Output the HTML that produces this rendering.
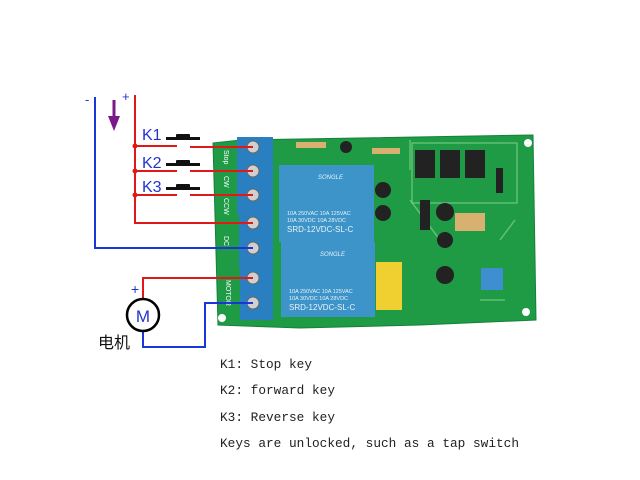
<!DOCTYPE html>
<html><head><meta charset="utf-8"><style>
html,body{margin:0;padding:0;background:#fff;width:640px;height:480px;overflow:hidden}
svg{display:block}
</style></head><body>
<svg width="640" height="480" viewBox="0 0 640 480" xmlns="http://www.w3.org/2000/svg">
<rect width="640" height="480" fill="#fff"/>
<polygon points="213,143 241,140 533,135 536,320 420,325 300,328 218,325" fill="#1f9a45"/>
<polygon points="213,143 241,140 533,135 536,320 420,325 300,328 218,325" fill="none" stroke="#16803a" stroke-width="1"/>
<circle cx="222" cy="318" r="4" fill="#fff"/>
<circle cx="528" cy="143" r="4" fill="#fff"/>
<circle cx="526" cy="312" r="4" fill="#fff"/>
<path d="M410,140 L410,170 M410,200 L440,240 M480,300 L505,300 M500,240 L515,220" stroke="#5fc070" stroke-width="1.5" fill="none"/>
<rect x="412" y="143" width="105" height="60" fill="none" stroke="#7fd08a" stroke-width="1"/>
<rect x="279" y="165" width="95" height="77" fill="#3d94c8"/>
<rect x="281" y="242" width="94" height="75" fill="#3d94c8"/>
<g font-family="Liberation Sans, sans-serif" fill="#e8f2fa">
<text x="318" y="179" font-size="6" font-style="italic">SONGLE</text>
<text x="287" y="215" font-size="5.5">10A 250VAC 10A 125VAC</text>
<text x="287" y="222" font-size="5.5">10A  30VDC 10A  28VDC</text>
<text x="287" y="232" font-size="8">SRD-12VDC-SL-C</text>
<text x="320" y="256" font-size="6" font-style="italic">SONGLE</text>
<text x="289" y="293" font-size="5.5">10A 250VAC 10A 125VAC</text>
<text x="289" y="300" font-size="5.5">10A  30VDC 10A  28VDC</text>
<text x="289" y="310" font-size="8">SRD-12VDC-SL-C</text>
</g>
<rect x="376" y="262" width="26" height="48" fill="#f0d030"/>
<rect x="415" y="150" width="20" height="28" fill="#222"/>
<rect x="440" y="150" width="20" height="28" fill="#222"/>
<rect x="465" y="150" width="20" height="28" fill="#222"/>
<circle cx="383" cy="190" r="8" fill="#222"/>
<circle cx="383" cy="213" r="8" fill="#222"/>
<circle cx="346" cy="147" r="6" fill="#222"/>
<circle cx="445" cy="212" r="9" fill="#222"/>
<circle cx="445" cy="240" r="8" fill="#222"/>
<circle cx="445" cy="275" r="9" fill="#222"/>
<rect x="481" y="268" width="22" height="22" fill="#3d8fd0"/>
<rect x="296" y="142" width="30" height="6" fill="#d8b070"/>
<rect x="372" y="148" width="28" height="6" fill="#d8b070"/>
<rect x="455" y="213" width="30" height="18" fill="#d8b070"/>
<rect x="420" y="200" width="10" height="30" fill="#222"/>
<rect x="496" y="168" width="7" height="25" fill="#222"/>
<rect x="237" y="137" width="36" height="77" fill="#2a7fc0"/>
<rect x="239" y="213" width="34" height="55" fill="#2a7fc0"/>
<rect x="240" y="267" width="33" height="53" fill="#2a7fc0"/>
<g fill="#d0d0d0" stroke="#666" stroke-width="1">
<circle cx="253" cy="147" r="6"/><circle cx="253" cy="171" r="6"/><circle cx="253" cy="195" r="6"/>
<circle cx="253" cy="223" r="6"/><circle cx="253" cy="248" r="6"/>
<circle cx="253" cy="278" r="6"/><circle cx="253" cy="303" r="6"/>
</g>
<g font-family="Liberation Sans, sans-serif" font-size="7" fill="#fff">
<text transform="translate(224,150) rotate(90)">Stop</text>
<text transform="translate(224,176) rotate(90)">CW</text>
<text transform="translate(224,198) rotate(90)">CCW</text>
<text transform="translate(224,236) rotate(90)">DC</text>
<text transform="translate(226,280) rotate(90)">MOTOR</text>
</g>
<g fill="none" stroke-width="2">
<path d="M95,97 L95,248 L253,248" stroke="#1a35d8"/>
<path d="M135,95 L135,223 L253,223" stroke="#e01818"/>
<path d="M135,146 L177,146 M190,147 L253,147" stroke="#e01818"/>
<path d="M135,171 L177,171 M190,171 L253,171" stroke="#e01818"/>
<path d="M135,195 L177,195 M190,195 L253,195" stroke="#e01818"/>
<path d="M143,299 L143,278 L253,278" stroke="#e01818"/>
<path d="M143,331 L143,347 L205,347 L205,303 L253,303" stroke="#1a35d8"/>
</g>
<g fill="#e01818"><circle cx="135" cy="146" r="2.5"/><circle cx="135" cy="171" r="2.5"/><circle cx="135" cy="195" r="2.5"/></g>
<g fill="#111">
<rect x="166" y="137" width="34" height="3"/><rect x="176" y="134" width="14" height="4" rx="1"/>
<rect x="166" y="163" width="34" height="3"/><rect x="176" y="160" width="14" height="4" rx="1"/>
<rect x="166" y="187" width="34" height="3"/><rect x="176" y="184" width="14" height="4" rx="1"/>
</g>
<g font-family="Liberation Sans, sans-serif" font-size="16" fill="#2233cc">
<text x="142" y="140">K1</text><text x="142" y="168">K2</text><text x="142" y="192">K3</text>
<text x="85" y="104" font-size="13">-</text><text x="122" y="101" font-size="13">+</text>
<text x="131" y="294" font-size="14">+</text>
</g>
<path d="M114,100 L114,118" stroke="#7a1a8a" stroke-width="3"/>
<polygon points="108,116 120,116 114,131" fill="#7a1a8a"/>
<circle cx="143" cy="315" r="16" fill="#fff" stroke="#000" stroke-width="2.5"/>
<text x="143" y="322" text-anchor="middle" font-family="Liberation Sans, sans-serif" font-size="17" fill="#2233cc">M</text>
<text x="98" y="348" font-family="Liberation Sans, 'Noto Sans CJK SC', sans-serif" font-size="16" fill="#111">电机</text>
<g font-family="Liberation Mono, monospace" font-size="13" fill="#222">
<text x="220" y="368" textLength="92" lengthAdjust="spacingAndGlyphs">K1: Stop key</text>
<text x="220" y="394" textLength="115" lengthAdjust="spacingAndGlyphs">K2: forward key</text>
<text x="220" y="421" textLength="115" lengthAdjust="spacingAndGlyphs">K3: Reverse key</text>
<text x="220" y="447" textLength="299" lengthAdjust="spacingAndGlyphs">Keys are unlocked, such as a tap switch</text>
</g>
</svg>
</body></html>
